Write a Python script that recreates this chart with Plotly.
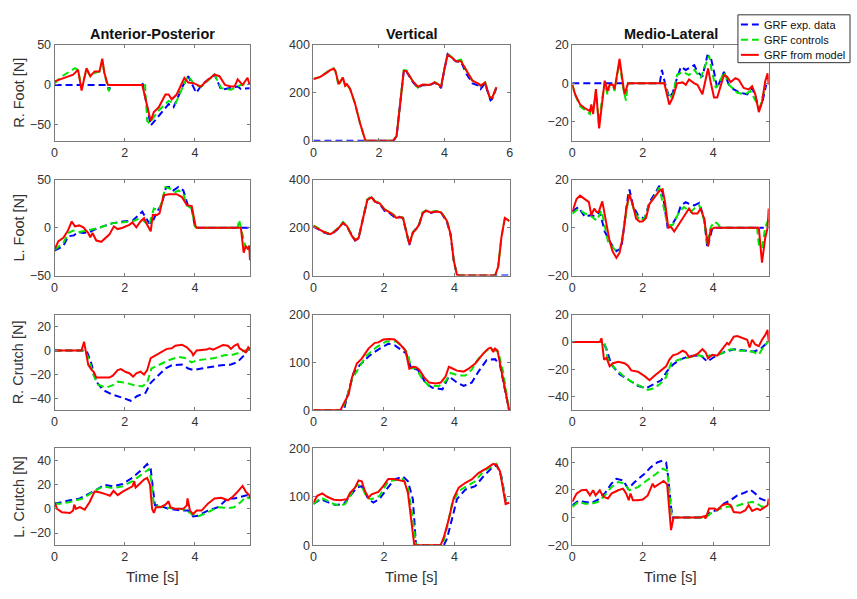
import plotly.graph_objects as go

W, H = 857, 599

# ---------------- data: (time [s], force [N]) ----------------
# Right foot
rf_ap_exp = [(0, 0), (1.50, 0), (1.55, -7), (1.60, 0), (2.45, 0), (2.50, 4), (2.74, -51), (2.97, -39), (3.25, -24),
             (3.39, -28), (3.67, 0), (3.81, 11), (4.04, -10), (4.19, 0), (4.56, 13), (4.75, -6), (5.03, -4),
             (5.22, -2), (5.31, -5), (5.56, -4)]
rf_ap_ctl = [(0, 2), (0.21, 11), (0.44, 17), (0.58, 21), (0.67, 19), (0.77, -3), (0.91, 19), (1.02, 11), (1.14, 15),
             (1.28, 17), (1.36, 30), (1.42, 14), (1.55, -8), (1.60, 0), (2.58, 0), (2.64, -45), (2.70, -48),
             (2.97, -32), (3.25, -20), (3.44, -24), (3.72, 4), (3.81, 11), (4.00, 0), (4.19, -2), (4.56, 13),
             (4.75, -4), (5.03, -6), (5.31, 0), (5.56, 2)]
rf_ap_mdl = [(0, 4.5), (0.21, 8), (0.39, 10), (0.53, 13), (0.67, 19), (0.77, -7), (0.91, 21), (1.02, 11), (1.14, 17),
             (1.28, 17), (1.36, 33), (1.42, 15), (1.52, 0), (2.50, 0), (2.74, -45), (2.83, -34), (2.97, -28),
             (3.16, -12), (3.25, -12), (3.34, -18), (3.48, -12), (3.70, 9), (3.81, 3), (3.98, 2), (4.17, -2),
             (4.33, 5), (4.56, 13), (4.70, 11), (4.86, 0), (5.03, -2), (5.13, -2), (5.22, 7), (5.36, 0), (5.50, 9),
             (5.56, 0)]

rf_v_exp = [(0, 0), (2.45, 0), (2.54, 20), (2.64, 156), (2.76, 292), (2.84, 290), (2.94, 268), (3.04, 245),
            (3.19, 222), (3.34, 233), (3.54, 232), (3.70, 242), (3.80, 235), (3.90, 220), (4.00, 298), (4.10, 362),
            (4.25, 345), (4.35, 332), (4.51, 330), (4.68, 278), (4.86, 240), (5.06, 230), (5.11, 217), (5.24, 240),
            (5.41, 169), (5.46, 175), (5.59, 220)]
rf_v_ctl = [(0, 258), (0.21, 267), (0.41, 287), (0.52, 298), (0.62, 303), (0.67, 292), (0.77, 230), (0.90, 266),
            (0.97, 228), (1.02, 237), (1.12, 217), (1.27, 156), (1.42, 75), (1.58, 4), (1.63, 0), (2.43, 0),
            (2.54, 20), (2.64, 156), (2.76, 295), (2.84, 294), (2.94, 271), (3.04, 248), (3.19, 222), (3.34, 235),
            (3.54, 233), (3.70, 246), (3.80, 237), (3.90, 226), (4.00, 300), (4.10, 366), (4.25, 346), (4.35, 335),
            (4.51, 339), (4.66, 296), (4.86, 250), (5.06, 237), (5.11, 230), (5.24, 248), (5.38, 185), (5.46, 178),
            (5.59, 224)]
rf_v_mdl = [(0, 258), (0.21, 267), (0.41, 285), (0.52, 296), (0.62, 301), (0.67, 292), (0.77, 237), (0.90, 264),
            (0.97, 230), (1.02, 237), (1.12, 217), (1.27, 156), (1.42, 75), (1.58, 4), (1.63, 0), (2.43, 0),
            (2.54, 20), (2.64, 156), (2.76, 292), (2.84, 292), (2.94, 271), (3.04, 248), (3.19, 226), (3.34, 235),
            (3.54, 233), (3.70, 244), (3.80, 237), (3.90, 226), (4.00, 298), (4.10, 359), (4.25, 346), (4.35, 332),
            (4.51, 332), (4.66, 298), (4.86, 251), (5.06, 237), (5.11, 230), (5.24, 244), (5.38, 183), (5.46, 179),
            (5.59, 224)]

rf_ml_exp = [(0, 0), (2.48, 0), (2.54, 7), (2.63, 0), (2.75, -7.4), (2.85, -4.9), (2.94, 1), (3.08, 8.6), (3.22, 7),
             (3.36, 8.6), (3.46, 9.5), (3.55, 6), (3.69, 3.5), (3.83, 14.5), (3.92, 14.2), (4.02, 6), (4.11, -2.4),
             (4.30, 6), (4.44, -0.7), (4.58, -3.2), (4.77, -4.9), (4.96, -5.7), (5.10, -2.4), (5.19, -6.6),
             (5.29, -13.3), (5.38, -10.6), (5.50, -0.7)]
rf_ml_ctl = [(0, -0.7), (0.08, -6), (0.22, -12), (0.36, -14), (0.50, -16), (0.54, -12), (0.59, -15), (0.67, -4),
             (0.76, -22), (0.83, -10), (0.92, 0.5), (1.00, -6), (1.06, -1), (1.15, -1), (1.20, -4), (1.34, 11),
             (1.44, -2), (1.52, -9), (1.58, 0), (2.63, 0), (2.73, -7.4), (2.85, -6.6), (2.97, 4.4), (3.13, 6),
             (3.31, 4.4), (3.46, 7), (3.64, 2.7), (3.74, 7.8), (3.88, 14.5), (3.95, 7), (4.07, -2.4), (4.16, 0),
             (4.30, 6), (4.44, -0.7), (4.68, -4.9), (4.91, -5.7), (5.05, -4), (5.24, -10.6), (5.33, -12.3),
             (5.47, -1.5)]
rf_ml_mdl = [(0, -0.7), (0.08, -5.7), (0.22, -11), (0.36, -13), (0.50, -14.5), (0.54, -11), (0.59, -16), (0.67, -3),
             (0.76, -23.5), (0.83, -11), (0.92, 1.4), (1.00, -4), (1.06, -0.7), (1.15, -0.7), (1.20, -3),
             (1.34, 12.8), (1.44, -0.7), (1.48, -5.7), (1.58, 0), (2.61, 0), (2.75, -11), (2.85, -7.4), (2.97, 0),
             (3.13, 0.5), (3.22, -0.7), (3.31, 2), (3.46, 0), (3.55, -0.7), (3.69, -5.7), (3.78, 2.7), (3.85, 7.8),
             (3.92, 1), (4.02, -7.4), (4.11, -7.4), (4.21, -0.7), (4.30, 4.4), (4.39, 3.5), (4.49, 0.7), (4.63, 2.7),
             (4.72, 1.9), (4.86, -2.4), (5.00, -3.2), (5.10, -1.5), (5.19, -5.7), (5.29, -15), (5.38, -10),
             (5.47, 1), (5.54, 5.2), (5.57, -0.7)]

# Left foot
lf_ap_exp = [(0, -24), (0.25, -19), (0.39, -9), (0.55, -8), (0.67, -4.5), (0.82, -5.5), (1.00, -4.5), (1.14, -2),
             (1.38, 1.4), (1.66, 4.8), (1.94, 6.5), (2.22, 7.2), (2.50, 16.8), (2.69, 4.8), (2.78, 4.8), (2.92, 16.8),
             (3.06, 25), (3.18, 42.5), (3.30, 42.5), (3.39, 39), (3.53, 42.5), (3.67, 39), (3.81, 22), (3.91, 20),
             (4.00, 1.4), (4.05, 0), (5.57, 0)]
lf_ap_ctl = [(0, -23), (0.25, -15.8), (0.39, -5.5), (0.53, -3), (0.72, -4.5), (1.00, -2), (1.28, 0), (1.66, 4.8),
             (1.94, 5.5), (2.22, 6.5), (2.45, 10), (2.69, 2.4), (2.83, 20), (2.97, 18.5), (3.06, 27), (3.16, 42.5),
             (3.30, 40.7), (3.44, 37.3), (3.53, 39), (3.67, 35.6), (3.77, 23.3), (3.91, 20), (4.00, 1.4), (4.05, 0),
             (5.22, 0), (5.26, 8.2), (5.31, 0), (5.45, -21), (5.55, -17.5), (5.57, -24)]
lf_ap_mdl = [(0, -22.6), (0.11, -14), (0.25, -10.6), (0.37, -3.8), (0.49, 6.5), (0.58, 1.4), (0.70, 2.4), (0.82, 0.3),
             (0.96, -5.5), (1.02, -10), (1.08, -5.5), (1.19, -13.4), (1.33, -14.7), (1.47, -10.6), (1.56, -7.2),
             (1.69, 1.4), (1.80, -1.4), (1.94, 0), (2.13, 3), (2.22, 5.5), (2.33, 0.3), (2.45, 6.5), (2.55, 10),
             (2.64, 3), (2.74, -3.8), (2.80, 13.4), (2.92, 13.4), (2.99, 15), (3.11, 34), (3.25, 35), (3.48, 35),
             (3.63, 32), (3.77, 23.6), (3.91, 22.6), (4.02, 1.4), (4.05, 0), (5.31, 0), (5.39, -26), (5.45, -19),
             (5.52, -22.6), (5.55, -19), (5.57, -34)]

lf_v_exp = [(0, 205), (0.16, 190), (0.30, 180), (0.48, 172), (0.58, 180), (0.72, 198), (0.84, 222), (0.95, 205),
            (1.09, 166), (1.18, 146), (1.28, 156), (1.42, 250), (1.53, 318), (1.65, 330), (1.74, 311), (1.88, 298),
            (2.02, 270), (2.12, 265), (2.26, 248), (2.35, 238), (2.44, 245), (2.54, 240), (2.63, 184), (2.72, 128),
            (2.82, 180), (2.91, 195), (3.00, 214), (3.10, 263), (3.19, 270), (3.33, 262), (3.47, 268), (3.61, 266),
            (3.70, 244), (3.79, 222), (3.89, 170), (3.98, 60), (4.07, 2), (4.17, 0), (5.57, 0)]
lf_v_ctl = [(0, 210), (0.16, 195), (0.30, 183), (0.48, 173), (0.58, 183), (0.72, 202), (0.84, 224), (0.95, 208),
            (1.09, 168), (1.18, 150), (1.28, 157), (1.42, 250), (1.53, 318), (1.65, 330), (1.74, 311), (1.88, 303),
            (2.02, 277), (2.12, 270), (2.26, 256), (2.35, 242), (2.44, 246), (2.54, 242), (2.63, 186), (2.72, 130),
            (2.82, 182), (2.91, 194), (3.00, 216), (3.10, 265), (3.19, 272), (3.33, 266), (3.47, 270), (3.61, 267),
            (3.70, 249), (3.79, 227), (3.89, 173), (3.98, 64), (4.07, 3), (4.17, 0), (5.15, 0), (5.24, 37),
            (5.33, 160), (5.43, 242), (5.50, 235), (5.55, 228)]
lf_v_mdl = [(0, 207), (0.16, 193), (0.30, 182), (0.48, 173), (0.58, 182), (0.72, 200), (0.84, 220), (0.95, 207),
            (1.09, 166), (1.18, 148), (1.28, 156), (1.42, 248), (1.53, 316), (1.65, 327), (1.74, 309), (1.88, 302),
            (2.02, 275), (2.12, 268), (2.26, 254), (2.35, 241), (2.44, 245), (2.54, 241), (2.63, 186), (2.72, 132),
            (2.82, 180), (2.91, 193), (3.00, 214), (3.10, 261), (3.19, 271), (3.33, 264), (3.47, 268), (3.61, 265),
            (3.70, 248), (3.79, 227), (3.89, 173), (3.98, 64), (4.07, 3), (4.17, 0), (5.15, 0), (5.24, 37),
            (5.33, 159), (5.43, 241), (5.50, 234), (5.55, 227)]

lf_ml_exp = [(0, 6.8), (0.17, 8.6), (0.36, 4.5), (0.50, 5.2), (0.64, 4.9), (0.78, 6.6), (0.92, -1.6), (1.11, -7),
             (1.25, -9.8), (1.39, -8.5), (1.58, 13.4), (1.62, 16), (1.72, 9.3), (1.86, 5.2), (2.05, 3.8),
             (2.19, 10.7), (2.33, 14), (2.47, 17.5), (2.56, 14.8), (2.70, 0.4), (2.85, 1.8), (2.99, 5.2), (3.08, 9.3),
             (3.22, 10.7), (3.31, 10), (3.46, 9.3), (3.60, 10.4), (3.74, 3.8), (3.83, -8.5), (3.97, -0.3), (4.02, 0),
             (5.43, 0)]
lf_ml_ctl = [(0, 5.9), (0.17, 7.9), (0.36, 5.9), (0.50, 5.2), (0.69, 3), (0.83, 7.1), (1.01, -5.7), (1.20, -9.1),
             (1.34, -9.8), (1.48, 1.1), (1.61, 14), (1.77, 6.6), (1.91, 3), (2.05, 4), (2.19, 10), (2.33, 13),
             (2.47, 16.8), (2.70, 1.1), (2.85, 1.1), (3.03, 6.6), (3.17, 8.6), (3.36, 6.6), (3.50, 8.6), (3.60, 9.3),
             (3.74, 3), (3.83, -7), (3.92, 0), (4.02, 2.5), (4.11, 1.8), (4.21, 0), (5.24, 0), (5.29, -7),
             (5.38, -8.5), (5.47, 0), (5.57, 3.8)]
lf_ml_mdl = [(0, 6.6), (0.12, 12), (0.22, 13.4), (0.36, 11.7), (0.47, 10.7), (0.54, 5.2), (0.62, 8), (0.69, 6.6),
             (0.75, 6.6), (0.85, 11), (0.97, 1), (1.06, -5.7), (1.14, -9.8), (1.25, -12.6), (1.34, -10.5),
             (1.44, -3), (1.53, 8), (1.62, 14), (1.72, 9.3), (1.81, 3.8), (1.91, 2.5), (2.00, 2.7), (2.09, 4.1),
             (2.19, 10), (2.33, 12.7), (2.47, 15.4), (2.56, 16.1), (2.63, 10.7), (2.72, 0), (2.80, 0.3),
             (2.89, -1.6), (3.03, 1.8), (3.17, 5), (3.31, 8), (3.41, 5.9), (3.55, 5.9), (3.64, 8), (3.74, 3.8),
             (3.85, -7.8), (3.92, -1), (4.02, 0), (5.29, 0), (5.38, -14.6), (5.47, -4.4), (5.54, 0), (5.57, 8)]

# Right crutch
rc_ap_exp = [(0, 0), (0.91, 0), (1.02, -8), (1.19, -26), (1.38, -33), (1.66, -37), (1.94, -39.5), (2.17, -42),
             (2.36, -38), (2.59, -35.4), (2.74, -27), (2.92, -21.8), (3.16, -15), (3.34, -12.3), (3.63, -11.7),
             (3.81, -15), (3.95, -16.3), (4.19, -15), (4.47, -13.6), (4.75, -12.3), (5.03, -11.7), (5.22, -9.5),
             (5.40, -4), (5.55, 2.7)]
rc_ap_ctl = [(0, 0), (0.86, 0), (0.98, -7), (1.10, -20), (1.24, -28.6), (1.47, -31), (1.66, -29), (1.80, -26),
             (2.03, -27), (2.27, -29), (2.50, -30), (2.64, -27), (2.76, -15), (2.97, -12), (3.25, -8.2), (3.53, -5.4),
             (3.72, -6.3), (3.91, -10), (4.05, -8.2), (4.28, -7.4), (4.56, -6.3), (4.84, -4), (5.08, -3.5),
             (5.31, -1.4), (5.55, 1.4)]
rc_ap_mdl = [(0, 0), (0.77, 0), (0.84, 7.4), (0.91, -4), (0.96, -12), (1.05, -16), (1.12, -18), (1.19, -22.6),
             (1.38, -22.3), (1.56, -22.6), (1.66, -21), (1.80, -16.3), (1.89, -15.5), (2.03, -18), (2.13, -19),
             (2.24, -21.8), (2.33, -19), (2.45, -17.7), (2.55, -20), (2.64, -16.3), (2.74, -6.3), (2.88, -4),
             (3.06, -1.4), (3.20, 1.4), (3.34, 1.9), (3.44, 4), (3.63, 4.9), (3.77, 2.7), (3.91, -1.4), (3.95, -4),
             (4.05, 0), (4.19, 0.5), (4.33, 0.8), (4.42, 1.9), (4.52, 0.8), (4.66, 2.7), (4.80, 4.6), (4.94, 4),
             (5.03, 1.4), (5.12, 4), (5.22, 5.4), (5.27, 1.9), (5.36, 0), (5.45, -1.4), (5.52, 2.7), (5.57, 0.8)]

rc_v_exp = [(0, 0), (0.86, 0), (1.00, 41), (1.14, 78), (1.32, 95), (1.60, 115), (1.88, 129), (2.12, 139),
            (2.30, 136), (2.44, 129), (2.63, 119), (2.77, 88), (2.96, 85), (3.19, 56), (3.38, 47), (3.66, 44),
            (3.84, 71), (4.07, 58), (4.26, 51), (4.49, 58), (4.68, 81), (4.91, 105), (5.15, 107), (5.29, 95),
            (5.43, 47), (5.55, 0)]
rc_v_ctl = [(0, 0), (0.81, 0), (0.95, 27), (1.09, 64), (1.28, 88), (1.51, 115), (1.79, 132), (2.07, 144),
            (2.35, 144), (2.54, 132), (2.68, 118), (2.77, 88), (2.91, 88), (3.10, 64), (3.28, 51), (3.56, 51),
            (3.75, 61), (3.89, 78), (4.12, 73), (4.31, 73), (4.49, 85), (4.68, 108), (4.91, 125), (5.05, 129),
            (5.24, 122), (5.38, 81), (5.55, 0)]
rc_v_mdl = [(0, 0), (0.76, 0), (1.00, 34), (1.09, 68), (1.23, 98), (1.37, 108), (1.56, 129), (1.74, 141),
            (1.84, 142), (1.98, 148), (2.16, 149), (2.30, 148), (2.44, 139), (2.61, 125), (2.72, 87), (2.82, 91),
            (2.91, 90), (3.00, 85), (3.14, 69), (3.28, 58), (3.47, 56), (3.61, 58), (3.75, 71), (3.84, 91),
            (3.93, 88), (4.07, 83), (4.26, 81), (4.40, 87), (4.59, 98), (4.82, 119), (4.96, 129), (5.03, 131),
            (5.10, 122), (5.15, 129), (5.22, 125), (5.33, 81), (5.43, 44), (5.55, 0)]

rc_ml_exp = [(0, 0), (0.87, 0), (0.97, -5.3), (1.11, -16.7), (1.34, -23.5), (1.58, -27.6), (1.86, -32),
             (2.09, -33.8), (2.28, -31.5), (2.52, -28), (2.70, -21), (2.85, -16.7), (3.03, -13.2), (3.31, -10.3),
             (3.64, -9.8), (3.83, -14.4), (4.02, -11), (4.30, -7.5), (4.58, -5.3), (4.86, -6.4), (5.15, -7),
             (5.33, -5.3), (5.47, -1.8), (5.57, -0.2)]
rc_ml_ctl = [(0, 0), (0.83, 0), (0.92, -0.7), (1.00, -12), (1.20, -19), (1.44, -24.7), (1.67, -29), (1.95, -32.6),
             (2.14, -35), (2.33, -33.8), (2.52, -30), (2.66, -25.8), (2.80, -15.5), (2.99, -13.2), (3.17, -12),
             (3.36, -11), (3.60, -9.8), (3.74, -11), (3.88, -9.8), (4.11, -9.8), (4.30, -7.5), (4.49, -5.3),
             (4.72, -6.4), (4.96, -6.4), (5.15, -7.5), (5.29, -9.4), (5.38, -5.3), (5.52, -0.7), (5.57, 0)]
rc_ml_mdl = [(0, 0), (0.78, 0), (0.83, 2.7), (0.90, -13), (0.97, -11.6), (1.06, -17.8), (1.15, -15.5), (1.30, -14.4),
             (1.48, -15.5), (1.58, -17.4), (1.67, -20.8), (1.86, -21.7), (2.05, -25), (2.19, -28), (2.33, -24.7),
             (2.52, -21), (2.66, -17.8), (2.75, -13), (2.85, -9.8), (2.99, -8.7), (3.13, -6.4), (3.22, -7.5),
             (3.31, -11), (3.41, -10.3), (3.55, -8.7), (3.69, -5.3), (3.78, -7.5), (3.85, -12), (3.97, -9.4),
             (4.11, -10), (4.25, -5.3), (4.39, -0.7), (4.44, -1.8), (4.58, 3.9), (4.68, 4.3), (4.82, 2.7),
             (4.96, 1.6), (5.03, -4), (5.10, 1.6), (5.19, -1.8), (5.29, -3), (5.38, 1.6), (5.47, 5), (5.54, 8.9),
             (5.57, 0.5)]

# Left crutch
lc_ap_exp = [(0, 4.3), (0.16, 5.1), (0.44, 7.1), (0.72, 8.6), (1.00, 12.9), (1.19, 15.7), (1.42, 20), (1.66, 18.6),
             (1.94, 20.6), (2.22, 25.7), (2.50, 32.9), (2.64, 37), (2.74, 33), (2.80, 20), (2.86, 2.9), (2.97, 2.9),
             (3.25, 0), (3.63, -1.4), (3.81, -1.4), (3.95, -6.3), (4.09, -5.7), (4.37, -1.4), (4.66, 1.4),
             (4.94, 8.6), (5.12, 8.6), (5.31, 10), (5.50, 11.4), (5.57, 9)]
lc_ap_ctl = [(0, 4.3), (0.16, 4.3), (0.44, 5.7), (0.81, 8.6), (1.10, 14.3), (1.38, 18.6), (1.66, 17.1),
             (1.94, 18.6), (2.22, 22.9), (2.50, 28.6), (2.69, 32.9), (2.76, 22.9), (2.83, 2.9), (3.06, 1.4),
             (3.44, 0), (3.72, -0.6), (3.91, -4.3), (4.09, -6.3), (4.37, -2.9), (4.66, 1.4), (4.94, 0.6),
             (5.12, 1.4), (5.31, 5.7), (5.45, 10), (5.57, 8.6)]
lc_ap_mdl = [(0, 5.7), (0.07, 0), (0.21, -2.9), (0.44, -3.4), (0.53, -1.4), (0.56, 3.4), (0.61, 0), (0.72, 1.4),
             (0.86, -0.6), (1.00, 5.7), (1.14, 14.3), (1.28, 13.7), (1.47, 12), (1.58, 10.9), (1.68, 14.9),
             (1.80, 11.4), (1.94, 14.3), (2.08, 16.6), (2.22, 18.6), (2.27, 22.9), (2.31, 17.7), (2.45, 21.4),
             (2.55, 24.3), (2.64, 25.7), (2.72, 20), (2.78, 0), (2.83, -3.4), (2.89, 1.4), (3.02, 1.4), (3.16, 3.4),
             (3.25, 6.3), (3.30, 1.4), (3.44, 0), (3.67, 0), (3.77, 2.9), (3.79, 8.6), (3.86, -1.4), (3.95, -4.3),
             (4.05, -1.4), (4.19, -1.4), (4.37, 4.3), (4.56, 8.6), (4.75, 9.1), (4.94, 7.1), (5.08, 10),
             (5.22, 14.3), (5.36, 19), (5.45, 14.3), (5.55, 11.4), (5.57, 9)]

lc_v_exp = [(0, 85), (0.21, 95), (0.44, 88), (0.62, 83), (0.86, 85), (1.00, 98), (1.23, 119), (1.37, 122),
            (1.56, 95), (1.70, 88), (1.88, 96), (2.07, 115), (2.30, 136), (2.54, 142), (2.68, 132), (2.82, 95),
            (2.91, 0), (3.70, 0), (3.79, 14), (3.93, 54), (4.07, 95), (4.31, 115), (4.59, 122), (4.82, 142),
            (5.05, 159), (5.19, 166), (5.33, 142), (5.47, 85), (5.55, 88)]
lc_v_ctl = [(0, 85), (0.21, 98), (0.39, 92), (0.58, 85), (0.76, 81), (0.90, 85), (1.04, 102), (1.23, 125),
            (1.37, 122), (1.51, 98), (1.65, 95), (1.88, 102), (2.12, 132), (2.30, 134), (2.54, 137), (2.68, 119),
            (2.82, 54), (2.91, 0), (3.66, 0), (3.79, 37), (3.93, 85), (4.12, 112), (4.35, 122), (4.59, 132),
            (4.82, 153), (5.05, 163), (5.19, 168), (5.33, 142), (5.47, 85), (5.55, 88)]
lc_v_mdl = [(0, 88), (0.11, 102), (0.25, 107), (0.39, 100), (0.58, 94), (0.76, 93), (0.95, 95), (1.04, 108),
            (1.18, 119), (1.28, 134), (1.37, 132), (1.46, 112), (1.56, 98), (1.65, 105), (1.84, 110), (1.98, 122),
            (2.12, 137), (2.26, 137), (2.44, 134), (2.58, 132), (2.68, 108), (2.77, 54), (2.86, 0), (3.61, 0),
            (3.70, 17), (3.84, 54), (3.98, 98), (4.12, 119), (4.31, 129), (4.49, 136), (4.68, 149), (4.87, 157),
            (5.10, 168), (5.19, 166), (5.29, 153), (5.38, 115), (5.45, 85), (5.55, 88)]

lc_ml_exp = [(0, 8.9), (0.17, 12), (0.36, 11.3), (0.54, 10.5), (0.73, 13), (0.92, 17.3), (1.11, 24.5), (1.25, 28),
             (1.44, 26.9), (1.58, 20.9), (1.77, 25.7), (2.05, 31.7), (2.23, 36.5), (2.42, 40), (2.56, 41.2),
             (2.66, 40), (2.72, 29.3), (2.80, 7.7), (2.85, 0), (3.74, 0), (3.92, 4), (4.11, 5.3), (4.30, 10),
             (4.49, 12.5), (4.68, 16), (4.86, 17.7), (5.05, 20.1), (5.19, 17.3), (5.33, 13.7), (5.47, 12.5),
             (5.57, 11.3)]
lc_ml_ctl = [(0, 7.7), (0.17, 11.3), (0.36, 10), (0.54, 10), (0.73, 11.3), (0.92, 16), (1.11, 22), (1.30, 25.7),
             (1.48, 24.5), (1.62, 19.7), (1.86, 22), (2.14, 26.9), (2.38, 31.7), (2.56, 35.3), (2.69, 34),
             (2.75, 19.7), (2.82, 0), (3.78, 0), (3.97, 4), (4.21, 6.5), (4.39, 7.7), (4.58, 7.7), (4.86, 10),
             (5.10, 11.3), (5.24, 10), (5.38, 7.7), (5.57, 10)]
lc_ml_mdl = [(0, 11.3), (0.12, 17.3), (0.26, 19.7), (0.40, 20), (0.50, 16), (0.59, 19.7), (0.66, 16), (0.78, 19.7),
             (0.83, 17.3), (0.90, 14.9), (1.01, 13.7), (1.11, 17.3), (1.30, 19.7), (1.44, 20.9), (1.53, 17.3),
             (1.60, 12.5), (1.65, 17.3), (1.72, 12.5), (1.86, 12.5), (2.00, 13), (2.14, 16), (2.23, 22),
             (2.28, 24.5), (2.33, 22), (2.47, 24.5), (2.59, 26.4), (2.69, 24), (2.75, 7.7), (2.80, -9.1), (2.87, 0),
             (3.64, 0), (3.74, 1), (3.78, -0.7), (3.88, 6.5), (4.02, 6.5), (4.11, 5.3), (4.25, 8.9), (4.39, 10),
             (4.49, 8.9), (4.58, 4), (4.77, 3.4), (4.91, 5.3), (5.00, 8.9), (5.10, 4.8), (5.24, 6.5), (5.33, 5.3),
             (5.47, 7.7), (5.54, 8.9), (5.57, 13.7)]

col_titles = ["Anterior-Posterior", "Vertical", "Medio-Lateral"]
row_titles = ["R. Foot [N]", "L. Foot [N]", "R. Crutch [N]", "L. Crutch [N]"]
series_names = ["GRF exp. data", "GRF controls", "GRF from model"]

panels = [
    [(rf_ap_exp, rf_ap_ctl, rf_ap_mdl), (rf_v_exp, rf_v_ctl, rf_v_mdl), (rf_ml_exp, rf_ml_ctl, rf_ml_mdl)],
    [(lf_ap_exp, lf_ap_ctl, lf_ap_mdl), (lf_v_exp, lf_v_ctl, lf_v_mdl), (lf_ml_exp, lf_ml_ctl, lf_ml_mdl)],
    [(rc_ap_exp, rc_ap_ctl, rc_ap_mdl), (rc_v_exp, rc_v_ctl, rc_v_mdl), (rc_ml_exp, rc_ml_ctl, rc_ml_mdl)],
    [(lc_ap_exp, lc_ap_ctl, lc_ap_mdl), (lc_v_exp, lc_v_ctl, lc_v_mdl), (lc_ml_exp, lc_ml_ctl, lc_ml_mdl)],
]

y_ranges = [[(-70, 50), (0, 400), (-30, 20)],
            [(-50, 50), (0, 400), (-20, 20)],
            [(-50, 30), (0, 200), (-50, 20)],
            [(-30, 50), (0, 200), (-20, 50)]]
y_ticks = [[[-50, 0, 50], [0, 200, 400], [-20, 0, 20]],
           [[-50, 0, 50], [0, 200, 400], [-20, 0, 20]],
           [[-40, -20, 0, 20], [0, 100, 200], [-40, -20, 0, 20]],
           [[-20, 0, 20, 40], [0, 100, 200], [-20, 0, 20, 40]]]

# ---------------- styling ----------------
FONT = "Liberation Sans, Arial, sans-serif"
AXIS_COL = "#7a7a7a"
TEXT_COL = "#333333"
styles = [dict(color="#0000ff", width=2, dash="7px,4px"),
          dict(color="#00e600", width=2, dash="7px,4px"),
          dict(color="#ff0000", width=2)]

col_px = [(52, 249), (313, 511), (574, 772)]
row_px = [(39, 137), (177, 275), (315, 413), (452, 551)]


def fx(x):
    return x / W


def fy(y):
    return 1 - y / H


fig = go.Figure()
layout = dict(width=W, height=H, margin=dict(l=0, r=0, t=0, b=0), autosize=False,
              paper_bgcolor="white", plot_bgcolor="white", showlegend=False,
              font=dict(family=FONT, color=TEXT_COL, size=12))

for r in range(4):
    for c in range(3):
        k = r * 3 + c + 1
        xs = "" if k == 1 else str(k)
        x_rng = (0, 6) if (r == 0 and c == 1) else (0, 5.57)
        x_tk = [0, 2, 4, 6] if (r == 0 and c == 1) else [0, 2, 4]
        common = dict(showgrid=False, zeroline=False, showline=True, linecolor=AXIS_COL, linewidth=1,
                      mirror="ticks", ticks="inside", ticklen=3, tickcolor=AXIS_COL, tickwidth=1,
                      tickfont=dict(size=12.5, color=TEXT_COL, family=FONT))
        layout["xaxis" + xs] = dict(domain=[fx(col_px[c][0]), fx(col_px[c][1])], range=list(x_rng),
                                    tickvals=x_tk, anchor="y" + xs, **common)
        layout["yaxis" + xs] = dict(domain=[fy(row_px[r][1]), fy(row_px[r][0])], range=list(y_ranges[r][c]),
                                    tickvals=y_ticks[r][c], anchor="x" + xs, **common)
        for s, st, nm in zip(panels[r][c], styles, series_names):
            fig.add_trace(go.Scatter(x=[p[0] for p in s], y=[p[1] for p in s], mode="lines", name=nm,
                                     line=st, xaxis="x" + xs, yaxis="y" + xs, hoverinfo="skip"))

annotations = []
for c, t in enumerate(col_titles):
    xc = (col_px[c][0] + col_px[c][1]) / 2
    annotations.append(dict(text="<b>%s</b>" % t, x=fx(xc), y=fy(28), xref="paper", yref="paper",
                            showarrow=False, xanchor="center", yanchor="middle",
                            font=dict(size=14.5, color="#111111", family=FONT)))
    annotations.append(dict(text="Time [s]", x=fx(xc), y=fy(583), xref="paper", yref="paper",
                            showarrow=False, xanchor="center", yanchor="middle",
                            font=dict(size=15, color=TEXT_COL, family=FONT)))
for r, t in enumerate(row_titles):
    yc = (row_px[r][0] + row_px[r][1]) / 2
    annotations.append(dict(text=t, x=fx(16), y=fy(yc), xref="paper", yref="paper", textangle=-90,
                            showarrow=False, xanchor="center", yanchor="middle",
                            font=dict(size=14.5, color=TEXT_COL, family=FONT)))

# legend box drawn in the top-right corner
shapes = [dict(type="rect", xref="paper", yref="paper", x0=fx(741), x1=fx(854), y0=fy(57), y1=fy(8),
               line=dict(color="#333333", width=1), fillcolor="white", layer="above")]
for i, (st, nm) in enumerate(zip(styles, series_names)):
    yy = 18 + i * 15.5
    shapes.append(dict(type="line", xref="paper", yref="paper", x0=fx(744), x1=fx(762), y0=fy(yy), y1=fy(yy),
                       line=dict(color=st["color"], width=2, dash=st.get("dash", "solid")), layer="above"))
    annotations.append(dict(text=nm, x=fx(765), y=fy(yy), xref="paper", yref="paper", showarrow=False,
                            xanchor="left", yanchor="middle", font=dict(size=11, color="#111111", family=FONT)))

layout["annotations"] = annotations
layout["shapes"] = shapes
fig.update_layout(**layout)
fig.write_html("out.html")
